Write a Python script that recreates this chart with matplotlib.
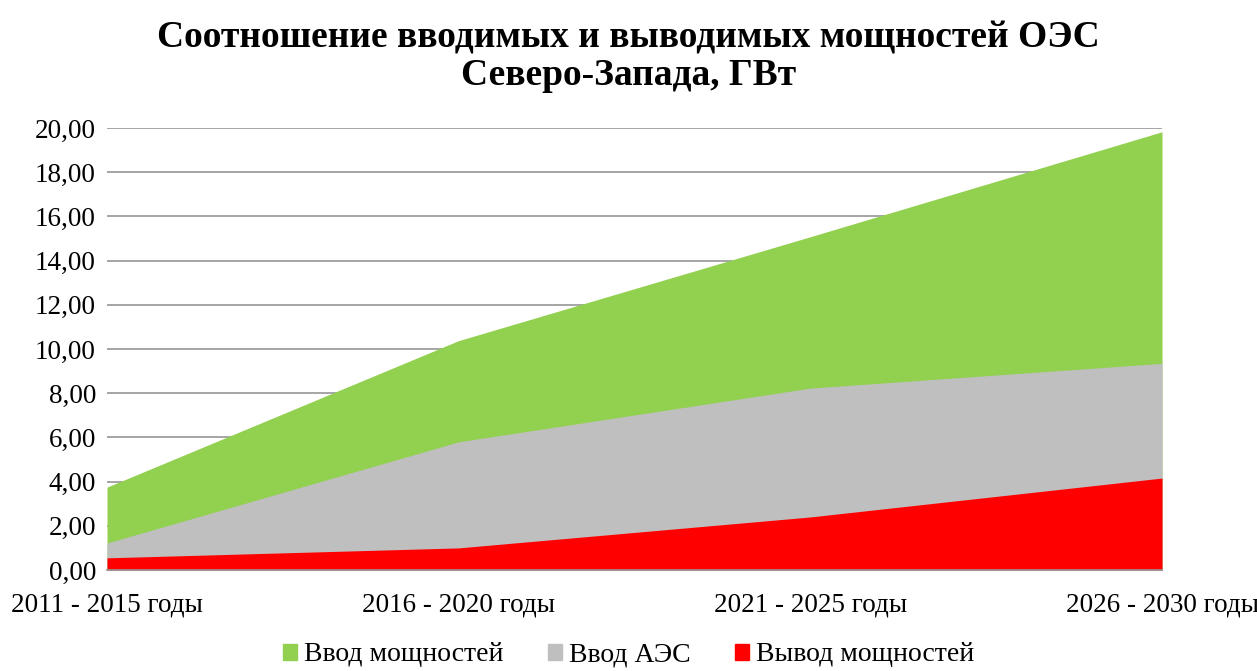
import matplotlib
matplotlib.use("Agg")
import matplotlib.pyplot as plt
from matplotlib.patches import Patch

periods = ["2011 - 2015 годы", "2016 - 2020 годы", "2021 - 2025 годы", "2026 - 2030 годы"]
vvod = [3.75, 10.38, 15.08, 19.83]
vvod_aes = [1.22, 5.80, 8.23, 9.35]
vyvod = [0.55, 1.00, 2.40, 4.16]

plt.rcParams['font.family'] = ['Liberation Serif', 'DejaVu Serif']

fig = plt.figure(figsize=(12.57, 6.71), dpi=100)
ax = fig.add_axes([107/1257, 1 - 570/671, (1162-107)/1257, (570-128)/671])

x = list(range(len(periods)))
ax.fill_between(x, 0, vvod, color="#92d050", linewidth=0, zorder=2)
ax.fill_between(x, 0, vvod_aes, color="#bfbfbf", linewidth=0, zorder=3)
ax.fill_between(x, 0, vyvod, color="#ff0000", linewidth=0, zorder=4)

ax.set_xlim(0, 3)
ax.set_ylim(0, 20)
ax.set_yticks(range(0, 21, 2))
ax.set_yticklabels(["%d,00" % v for v in range(0, 21, 2)], fontsize=19.5)
ax.set_xticks(x)
ax.set_xticklabels(periods, fontsize=19.5)
ax.tick_params(axis="both", length=0)
ax.tick_params(axis="y", pad=8)
ax.tick_params(axis="x", pad=16)
ax.grid(axis="y", color="#969696", linewidth=1.2, zorder=1)
ax.set_axisbelow(True)
for s in ["top", "right", "left"]:
    ax.spines[s].set_visible(False)
ax.spines["bottom"].set_color("#969696")
ax.spines["bottom"].set_linewidth(1.2)
ax.spines["bottom"].set_zorder(5)

fig.suptitle("Соотношение вводимых и выводимых мощностей ОЭС\nСеверо-Запада, ГВт",
             fontsize=27, fontweight="bold", y=0.97, linespacing=1.1)

handles = [Patch(color="#92d050", label="Ввод мощностей"),
           Patch(color="#bfbfbf", label="Ввод АЭС"),
           Patch(color="#ff0000", label="Вывод мощностей")]
fig.legend(handles=handles, loc="lower center", ncol=3, frameon=False, fontsize=20,
           bbox_to_anchor=(0.5, -0.032), handlelength=0.5, handleheight=0.5,
           handletextpad=0.25, columnspacing=1.6)

fig.savefig("out.png", dpi=100)
